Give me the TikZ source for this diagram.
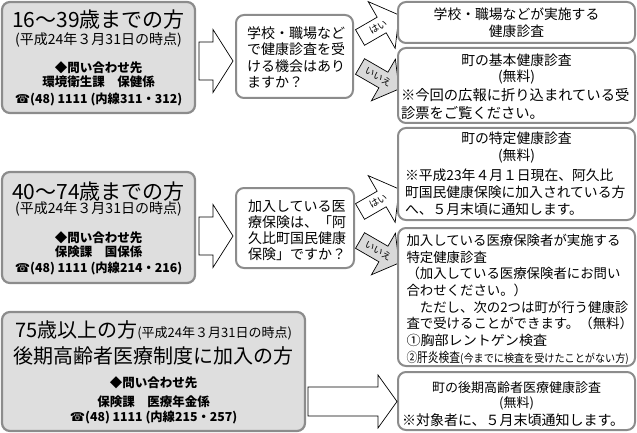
\documentclass[tikz,border=0pt]{standalone}
\usepackage{fontspec}
\usepackage{graphicx}
\setmainfont{Noto Sans CJK JP}
\newfontfamily\symfont{DejaVu Sans}
\definecolor{lightfill}{gray}{0.87}
\definecolor{bordergray}{gray}{0.55}
\definecolor{nofill}{gray}{0.85}
\tikzset{
 lbox/.style={draw=bordergray, line width=2.2pt, fill=lightfill, rounded corners=8pt, inner sep=0pt},
 wbox/.style={draw=bordergray, line width=2pt, fill=white, rounded corners=8pt, inner sep=0pt},
 txt/.style={inner sep=0pt, outer sep=0pt},
 big/.style={txt, font=\fontsize{20}{24}\selectfont},
 datetxt/.style={txt, font=\fontsize{14}{16}\selectfont},
 contact/.style={txt, font=\fontsize{12.5}{15}\selectfont\bfseries},
 teltxt/.style={txt, font=\fontsize{12.3}{15}\selectfont\bfseries},
 qtext/.style={txt, align=left, anchor=west, font=\fontsize{14}{16.3}\selectfont},
 rtext/.style={txt, align=center, font=\fontsize{13.8}{17}\selectfont},
 rleft/.style={txt, align=left, anchor=west, font=\fontsize{13.8}{17}\selectfont},
 blk/.style={draw=black, line width=0.7pt, fill=white, line join=miter},
 yesno/.style={txt, font=\fontsize{9.5}{11}\selectfont},
}
\begin{document}
\begin{tikzpicture}[x=1pt,y=-1pt]
\useasboundingbox (0,0) rectangle (637,433);

% small yes/no arrows (drawn below boxes)
\begin{scope}[shift={(399,15)}, rotate=30, transform shape]
 \draw[blk] (0,0) -- (-20,-27) -- (-20,-9) -- (-45,-9) -- (-45,9) -- (-20,9) -- (-20,27) -- cycle;
 \node[yesno] (yes1) at (-24,0) {はい};
\end{scope}
\begin{scope}[shift={(399,89)}, rotate=-30, transform shape]
 \draw[blk, fill=nofill] (0,0) -- (-18,-24) -- (-18,-9) -- (-45,-9) -- (-45,9) -- (-18,9) -- (-18,24) -- cycle;
 \node[yesno] (no1) at (-24,0) {いいえ};
\end{scope}
\begin{scope}[shift={(399,189)}, rotate=30, transform shape]
 \draw[blk] (0,0) -- (-20,-27) -- (-20,-9) -- (-45,-9) -- (-45,9) -- (-20,9) -- (-20,27) -- cycle;
 \node[yesno] (yes2) at (-24,0) {はい};
\end{scope}
\begin{scope}[shift={(399,263)}, rotate=-30, transform shape]
 \draw[blk, fill=nofill] (0,0) -- (-18,-24) -- (-18,-9) -- (-45,-9) -- (-45,9) -- (-18,9) -- (-18,24) -- cycle;
 \node[yesno] (no2) at (-24,0) {いいえ};
\end{scope}

% left boxes
\node[lbox, minimum width=193pt, minimum height=111pt] (a1) at (98.5,57.5) {};
\node[lbox, minimum width=193pt, minimum height=111pt] (a2) at (98.5,227.5) {};
\node[lbox, minimum width=303pt, minimum height=119pt] (a3) at (153.5,371.5) {};

% question boxes
\node[wbox, minimum width=117pt, minimum height=83pt] (q1) at (294.5,56.5) {};
\node[wbox, minimum width=118pt, minimum height=80pt] (q2) at (295,228) {};

% right boxes
\node[wbox, minimum width=237pt, minimum height=41pt] (r1) at (516.5,22.5) {};
\node[wbox, minimum width=237pt, minimum height=75pt] (r2) at (516.5,85.5) {};
\node[wbox, minimum width=237pt, minimum height=92pt] (r3) at (516.5,174) {};
\node[wbox, minimum width=237pt, minimum height=138pt] (r4) at (516.5,297) {};
\node[wbox, minimum width=237pt, minimum height=58pt] (r5) at (516.5,401) {};

% big block arrows
\draw[blk] (199,42) -- (213,42) -- (213,29.5) -- (233,61) -- (213,92.5) -- (213,80) -- (199,80) -- cycle;
\draw[blk] (199,217) -- (213,217) -- (213,204.5) -- (233,236) -- (213,267.5) -- (213,255) -- (199,255) -- cycle;
\draw[blk] (308,387) -- (378,387) -- (378,375) -- (397,401.5) -- (378,428) -- (378,416) -- (308,416) -- cycle;

% texts in box a1
\node[big, font=\fontsize{21}{24}\selectfont] (a1t1) at (98.5,20) {16～39歳までの方};
\node[datetxt] (a1t2) at (98.5,39.5) {(平成24年３月31日の時点)};
\node[contact] (a1t3) at (98.5,67.5) {◆問い合わせ先};
\node[contact] (a1t4) at (98.5,82) {環境衛生課　保健係};
\node[teltxt] (a1t5) at (98.5,99) {{\symfont ☎}(48) 1111 (内線311・312)};

% texts in box a2
\node[big, font=\fontsize{21}{24}\selectfont] (a2t1) at (98.5,191.5) {40～74歳までの方};
\node[datetxt] (a2t2) at (98.5,209) {(平成24年３月31日の時点)};
\node[contact] (a2t3) at (98.5,237.5) {◆問い合わせ先};
\node[contact] (a2t4) at (98.5,252) {保険課　国保係};
\node[teltxt] (a2t5) at (98.5,268) {{\symfont ☎}(48) 1111 (内線214・216)};

% texts in box a3
\node[big] (a3t1) at (153.5,330) {75歳以上の方{\fontsize{13}{15}\selectfont(平成24年３月31日の時点)}};
\node[big] (a3t2) at (153.5,355.5) {後期高齢者医療制度に加入の方};
\node[contact] (a3t3) at (153.5,383) {◆問い合わせ先};
\node[contact] (a3t4) at (153.5,401.5) {保険課　医療年金係};
\node[teltxt] (a3t5) at (153.5,417.5) {{\symfont ☎}(48) 1111 (内線215・257)};

% question texts
\node[qtext] (q1t) at (247,57.5) {学校・職場など\\で健康診査を受\\ける機会はあり\\ますか？};
\node[qtext, font=\fontsize{14}{16}\selectfont] (q2t) at (248,230) {加入している医\\療保険は、「阿\\久比町国民健康\\保険」ですか？};

% right texts
\node[rtext] (r1t) at (516.5,23) {学校・職場などが実施する\\健康診査};
\node[rtext, font=\fontsize{13.8}{16.5}\selectfont] (r2t) at (516.5,69.3) {町の基本健康診査\\(無料)};
\node[rleft, font=\fontsize{14.3}{17.5}\selectfont] (r2u) at (401,104.3) {※今回の広報に折り込まれている受\\診票をご覧ください。};
\node[rtext] (r3t) at (516.5,147.5) {町の特定健康診査\\(無料)};
\node[rleft] (r3u) at (405,192.3) {※平成23年４月１日現在、阿久比\\町国民健康保険に加入されている方\\へ、５月末頃に通知します。};
\node[rleft, font=\fontsize{13.4}{16.64}\selectfont] (r4t) at (406.5,299.25) {加入している医療保険者が実施する\\特定健康診査\\（加入している医療保険者にお問い\\合わせください。）\\　ただし、次の2つは町が行う健康診\\査で受けることができます。（無料）\\\scalebox{1.05}[1]{①胸部レントゲン検査}\\\scalebox{0.8}[1]{②肝炎検査}\scalebox{0.92}[1]{\fontsize{11}{13}\selectfont(今までに検査を受けたことがない方)}};
\node[rtext, font=\fontsize{13}{15.5}\selectfont] (r5t) at (516.5,396) {町の後期高齢者医療健康診査\\(無料)};
\node[rleft, font=\fontsize{14}{17}\selectfont] (r5u) at (402,420) {※対象者に、５月末頃通知します。};
\end{tikzpicture}
\end{document}
